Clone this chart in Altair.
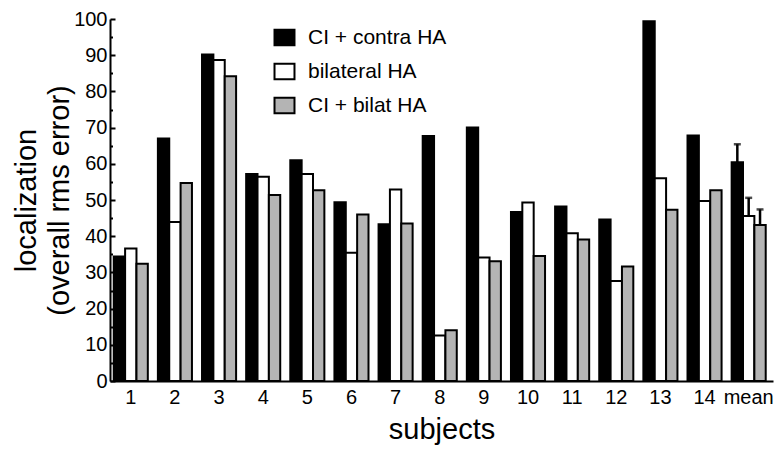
import altair as alt
import pandas as pd

subjects = ["1", "2", "3", "4", "5", "6", "7", "8", "9", "10", "11", "12", "13", "14", "mean"]
series = ["CI + contra HA", "bilateral HA", "CI + bilat HA"]
contra = [34.4, 67.0, 90.2, 57.2, 61.0, 49.4, 43.3, 67.7, 70.0, 46.7, 48.2, 44.6, 99.4, 67.8, 60.4]
bilateral = [36.6, 43.9, 88.7, 56.4, 57.2, 35.4, 52.9, 12.6, 34.1, 49.3, 40.8, 27.6, 56.0, 49.7, 45.6]
bilat = [32.4, 54.7, 84.2, 51.4, 52.7, 46.0, 43.5, 14.0, 33.1, 34.5, 39.1, 31.6, 47.3, 52.7, 43.1]
mean_upper = [65.4, 50.6, 47.4]
fills = ["#000000", "#ffffff", "#b4b4b4"]
major_ticks = list(range(0, 101, 10))
minor_ticks = list(range(5, 100, 10))

rows = []
for i, s in enumerate(subjects):
    for name, vals in zip(series, [contra, bilateral, bilat]):
        rows.append({"subject": s, "series": name, "value": vals[i]})
df = pd.DataFrame(rows)

err = pd.DataFrame({
    "subject": ["mean"] * 3,
    "series": series,
    "value": [contra[-1], bilateral[-1], bilat[-1]],
    "upper": mean_upper,
})

W, H = 663, 362
FONT = "Liberation Sans"

xenc = alt.X(
    "subject:N",
    sort=subjects,
    scale=alt.Scale(paddingInner=0.228, paddingOuter=0.125, align=0.34),
    axis=alt.Axis(
        title="subjects", labelAngle=0, ticks=False, tickSize=0,
        domainWidth=2, domainColor="black", labelFontSize=20, labelColor="black",
        labelPadding=6, titleFontSize=29, titleFontWeight="normal", titleColor="black",
        titlePadding=8,
    ),
)
xoff = alt.XOffset("series:N", sort=series, scale=alt.Scale(paddingInner=0, paddingOuter=0))
yscale = alt.Scale(domain=[0, 100], nice=False, zero=True)

bars = alt.Chart(df).mark_bar(stroke="black", strokeWidth=2).encode(
    x=xenc,
    xOffset=xoff,
    y=alt.Y(
        "value:Q", scale=yscale,
        axis=alt.Axis(
            title=["localization", "(overall rms error)"], values=major_ticks,
            ticks=False, tickSize=0, labelPadding=3, domainWidth=2, domainColor="black",
            grid=False, labelFontSize=20, labelColor="black", titleFontSize=29,
            titleFontWeight="normal", titleColor="black", titleLineHeight=33,
            titleX=-69, titleY=181, titleAlign="center", titleBaseline="bottom",
        ),
    ),
    fill=alt.Fill(
        "series:N", sort=series,
        scale=alt.Scale(domain=series, range=fills),
        legend=alt.Legend(
            title=None, orient="none", legendX=164, legendY=8, padding=0,
            labelFontSize=21, labelColor="black", labelOffset=13,
            symbolType="M-1.29,-1H1.29V1H-1.29Z", symbolSize=240,
            symbolStrokeColor="black", symbolStrokeWidth=2, symbolOpacity=1,
            rowPadding=9,
        ),
    ),
)

rules = alt.Chart(err).mark_rule(strokeWidth=2.5, color="black").encode(
    x=xenc,
    xOffset=xoff,
    y=alt.Y(
        "value:Q", scale=yscale,
        axis=alt.Axis(
            orient="right", offset=-W, values=major_ticks, tickSize=5, tickWidth=2,
            tickColor="black", labels=False, domain=False, title=None, grid=False,
        ),
    ),
    y2="upper:Q",
)

caps = alt.Chart(err).mark_tick(size=7, thickness=2.5, color="black").encode(
    x=xenc,
    xOffset=xoff,
    y=alt.Y(
        "upper:Q", scale=yscale,
        axis=alt.Axis(
            orient="right", offset=-W, values=minor_ticks, tickSize=2.5, tickWidth=2,
            tickColor="black", labels=False, domain=False, title=None, grid=False,
        ),
    ),
)

chart = (
    alt.layer(bars, rules, caps)
    .resolve_scale(y="independent")
    .properties(
        width=W, height=H,
        autosize=alt.AutoSizeParams(type="none"),
        padding={"left": 110, "top": 19, "right": 6, "bottom": 71},
        background="white",
    )
    .configure(font=FONT)
    .configure_view(stroke=None)
)

chart.save("out.html", embed_options={"renderer": "svg", "actions": False})
